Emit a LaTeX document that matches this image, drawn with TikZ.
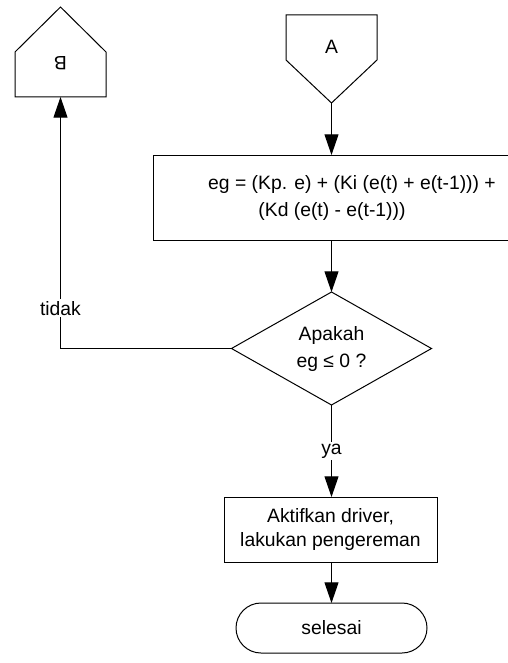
\documentclass[tikz,border=0pt]{standalone}
\usepackage{fontspec}
\setmainfont{Liberation Sans}
\usetikzlibrary{arrows.meta,shapes.geometric,shapes.misc}
\tikzset{
	garis/.style={line width=0.75pt},
	panah/.style={garis, -{Triangle[length=15.5pt,width=10.5pt]}},
	kosong/.style={inner sep=0pt, outer sep=0pt},
	proses/.style={draw, garis, rectangle, align=center, kosong},
	label garis/.style={fill=white, inner sep=1.5pt}
}
\begin{document}
\begin{tikzpicture}[x=0.75pt, y=-0.75pt, font=\fontsize{14.5}{18}\selectfont]
	\useasboundingbox (0,0) rectangle (507,663);
	% konektor B (ke atas) dan A (ke bawah)
	\node[kosong, minimum width=91*0.75pt, minimum height=45*0.75pt] (B) at (60.5,74.5) {};
	\coordinate (Bujung) at (60.5,7);
	\draw[garis] (B.south west) -- (B.north west) -- (Bujung) -- (B.north east) -- (B.south east) -- cycle;
	\node[rotate=180] (Bteks) at (60.5,63) {B};
	\node[kosong, minimum width=91*0.75pt, minimum height=45*0.75pt] (A) at (331.5,37.5) {};
	\coordinate (Aujung) at (331.5,103);
	\draw[garis] (A.north west) -- (A.north east) -- (A.south east) -- (Aujung) -- (A.south west) -- cycle;
	\node (Ateks) at (331.5,47) {A};
	% proses dan keputusan
	\node[proses, minimum width=358*0.75pt, minimum height=85*0.75pt] (hitung) at (332,197.5)
		{\hspace*{30pt}eg = (Kp. e) + (Ki (e(t) + e(t-1))) +\\[2.25pt](Kd (e(t) - e(t-1)))};
	\node[draw, garis, diamond, aspect=1.77, kosong, align=center, minimum width=200*0.75pt, minimum height=113*0.75pt] (cek) at (331.5,348.5)
		{Apakah\\[2.25pt]eg ≤ 0 ?};
	\node[proses, minimum width=213*0.75pt, minimum height=65*0.75pt] (rem) at (330.5,529.5)
		{Aktifkan driver,\\lakukan pengereman};
	\node[draw, garis, rounded rectangle, kosong, minimum width=191*0.75pt, minimum height=50*0.75pt] (selesai) at (331.5,628) {selesai};
	% alur
	\draw[panah] (Aujung) -- (hitung.north -| Aujung);
	\draw[panah] (hitung.south -| cek.north) -- (cek.north);
	\draw[panah] (cek.south) -- node[label garis] {ya} (rem.north -| cek.south);
	\draw[panah] (rem.south -| cek.south) -- (selesai.north -| cek.south);
	\draw[panah] (cek.west) -| node[pos=0.58, label garis] {tidak} (B.south);
\end{tikzpicture}
\end{document}
